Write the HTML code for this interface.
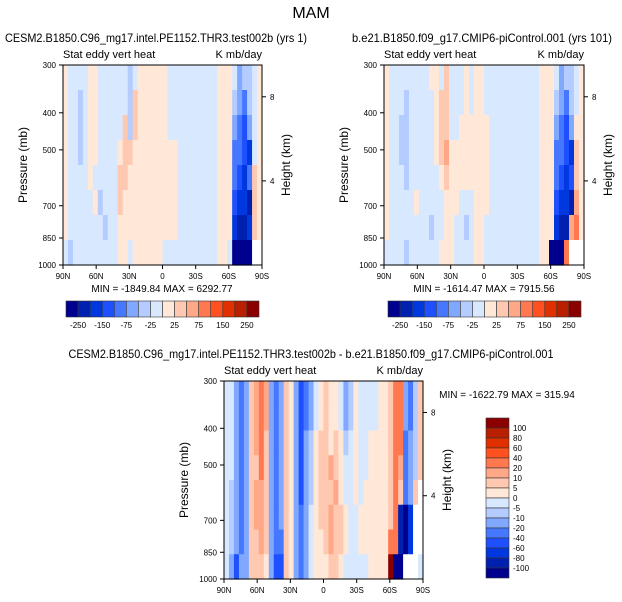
<!DOCTYPE html>
<html><head><meta charset="utf-8"><style>body{margin:0;background:#fff}svg{display:block;font-family:"Liberation Sans",sans-serif}</style></head>
<body>
<svg id="c" width="622" height="602" xmlns="http://www.w3.org/2000/svg"></svg>
<script>
const palette=["#00008f","#0020b0","#0038e0","#1e50ff","#4678ff","#80a8ff","#b4ccff","#d8e8ff","#ffe8d8","#ffc8b0","#ffa888","#ff7850","#ff5020","#e03000","#b82000","#8a0000"];
const latTicks=["90N","60N","30N","0","30S","60S","90S"];
const presTicks=[300,400,500,700,850,1000];
const heightTicks=[8,4];
const topCbLabels=["-250","-150","-75","-25","25","75","150","250"];
const diffCbLabels=["100","80","60","40","20","10","5","0","-5","-10","-20","-40","-60","-80","-100"];
const gridTL=[
"8777788777777678888887777777777888756678",
"8776788777777698888887777777777888654678",
"8776788777779698888887777777777888543578",
"8776788777789988888888877777777888443278",
"8777787777799888888888877777777888432498",
"8777778677798888888888877777777888322198",
"8777777767788888888888877777777888211298",
"76777777777887888888777777777778870000ww"];
const gridTR=[
"8777777778879777878877777777777888756678",
"8777677777899777878877777777777888654678",
"8776677777899778888887777777777888543588",
"877667777789a888888887777777777888443298",
"8777677777789888888887777777777888432398",
"87777787777788877788877777777778883221a8",
"8777777776778877678877777777777888211ab8",
"777767777778887777887777777777788000bwww"];
const gridD=[
"775459aba5459853457898875687777889bb5469",
"775459aba5459853457898875687777889bb5469",
"775459ab95459853568998986787788889bb4569",
"7754599b9545985356899a987787788889ba4569",
"765459aa95459853568999a87787888889b9459w",
"765459aa9545985457899a998778888889b102ww",
"7654599a9544985457889a99877888888bb102ww",
"753559998533985457888998777778888f00www"];
const ns="http://www.w3.org/2000/svg";
const svg=document.getElementById('c');
function el(tag,attrs,name,parent){const e=document.createElementNS(ns,tag);for(const k in attrs)e.setAttribute(k,attrs[k]);


(parent||svg).appendChild(e);return e;}
function txt(x,y,s,size,anchor,name,rot){const t=el('text',{x:x,y:y,'font-size':size,'text-anchor':anchor||'middle',fill:'#000'},name);if(rot)t.setAttribute('transform','rotate(-90 '+x+' '+y+')');t.textContent=s;return t;}
function panel(px,py,w,h,grid,title,tx,tw,minmax,mmx,mmy,key){
  const g=el('g',{},key+'-panel');
  const yP=p=>py+h*Math.log(p/300)/Math.log(1000/300);
  const xL=i=>px+w*i/(latTicks.length-1);
  const rows=grid.length;
  for(let r=0;r<rows;r++){const cols=40;const y0=py+h*r/rows,y1=py+h*(r+1)/rows;
    for(let c=0;c<cols;c++){const ch=grid[r][c]||'7';const col=ch==='w'?'#fff':palette[parseInt(ch,16)];
      el('rect',{x:px+w*c/cols,y:y0,width:w/cols+0.6,height:y1-y0+0.6,fill:col},key+'-cell',g);}}
  el('rect',{x:px,y:py,width:w,height:h,fill:'none',stroke:'#000','stroke-width':1},key+'-frame',g);
  presTicks.forEach(p=>{const y=yP(p);el('line',{x1:px-4,x2:px,y1:y,y2:y,stroke:'#000'},key+'-ytick',g);txt(px-7,y+3,String(p),8,'end',key+'-ytick-label');});
  latTicks.forEach((l,i)=>{const x=xL(i);el('line',{x1:x,x2:x,y1:py+h,y2:py+h+4,stroke:'#000'},key+'-xtick',g);txt(x,py+h+14,l,8,'middle',key+'-xtick-label');});
  heightTicks.forEach(hk=>{const p=1000*Math.exp(-hk/7.9);const y=yP(p);el('line',{x1:px+w,x2:px+w+4,y1:y,y2:y,stroke:'#000'},key+'-htick',g);txt(px+w+8,y+3,String(hk),8,'start',key+'-htick-label');});
  txt(px-36,py+h/2,'Pressure (mb)',12,'middle',key+'-y-axis-title',true);
  txt(px+w+28,py+h/2,'Height (km)',12,'middle',key+'-right-axis-title',true);
  txt(px,py-7,'Stat eddy vert heat',11,'start',key+'-left-string');
  txt(px+w,py-7,'K mb/day',11,'end',key+'-right-string');
  txt(mmx,mmy,minmax,10,'middle',key+'-minmax');
  const t=txt(tx,py-23,title,12,'middle',key+'-title');
  t.setAttribute('textLength',tw);t.setAttribute('lengthAdjust','spacingAndGlyphs');
}
txt(311,18,'MAM',16,'middle','main-title');
panel(63,65,199,200,gridTL,'CESM2.B1850.C96_mg17.intel.PE1152.THR3.test002b (yrs 1)',156,302,'MIN = -1849.84  MAX = 6292.77',162,292,'top-left');
panel(384,65,200,200,gridTR,'b.e21.B1850.f09_g17.CMIP6-piControl.001 (yrs 101)',482,260,'MIN = -1614.47  MAX = 7915.56',484,292,'top-right');
panel(224,381,199,198,gridD,'CESM2.B1850.C96_mg17.intel.PE1152.THR3.test002b - b.e21.B1850.f09_g17.CMIP6-piControl.001',311,485,'MIN = -1622.79  MAX = 315.94',507,398,'diff');
function hbar(x0,y0,w,h,key){const bw=w/16;for(let i=0;i<16;i++){el('rect',{x:x0+i*bw,y:y0,width:bw,height:h,fill:palette[i],stroke:'#333','stroke-width':0.6},key+'-box');}
  topCbLabels.forEach((l,j)=>{txt(x0+bw*(1+2*j),y0+h+11,l,8,'middle',key+'-label');});}
hbar(66,301,193,16,'top-left-colorbar');
hbar(388,301,193,16,'top-right-colorbar');
(function(){const x0=486,y0=418,w=23,h=160,bh=h/16;for(let i=0;i<16;i++){el('rect',{x:x0,y:y0+i*bh,width:w,height:bh,fill:palette[15-i],stroke:'#333','stroke-width':0.6},'diff-colorbar-box');}
  diffCbLabels.forEach((l,j)=>{txt(x0+w+4,y0+bh*(j+1)+3,l,8,'start','diff-colorbar-label');});})();
</script>
</body></html>
